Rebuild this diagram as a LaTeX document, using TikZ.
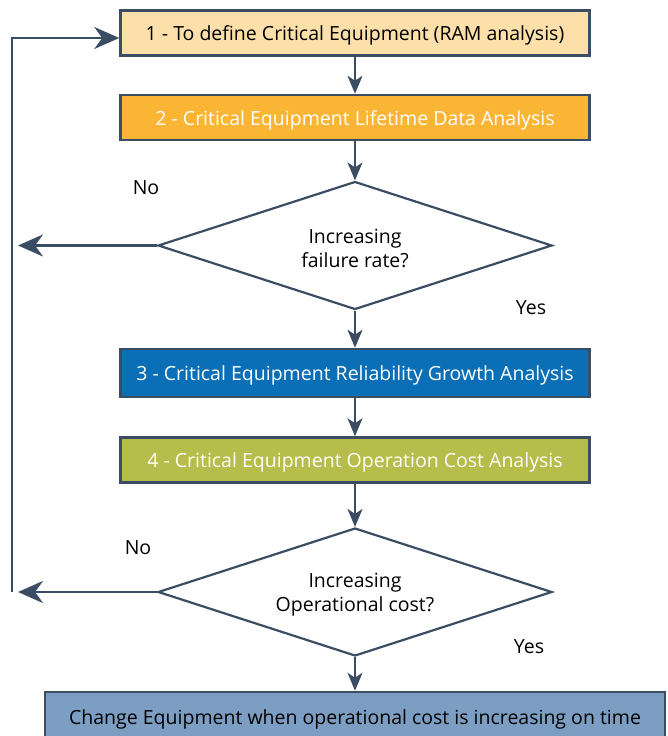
\documentclass[tikz,border=0pt]{standalone}
\usepackage{fontspec}
\setmainfont{Open Sans}
\usetikzlibrary{shapes.geometric,arrows.meta}
\definecolor{edge}{HTML}{3A4D63}
\definecolor{ramfill}{HTML}{FDDFA9}
\definecolor{lifefill}{HTML}{FBB535}
\definecolor{growfill}{HTML}{0A6FB6}
\definecolor{costfill}{HTML}{B7BD4A}
\definecolor{changefill}{HTML}{7B9EC2}
\begin{document}
\begin{tikzpicture}[x=1pt, y=-1pt,
        stepbox/.style={draw=edge, line width=2.5pt, minimum width=469pt, minimum height=45pt, inner sep=0pt, text height=16pt, text depth=1pt, font=\fontsize{19.5}{22}\selectfont},
        decision/.style={draw=edge, line width=2.2pt, diamond, shape aspect=3, minimum width=394pt, minimum height=128pt, inner sep=0pt, align=center, font=\fontsize{19.5}{24}\selectfont},
        flow/.style={draw=edge, line width=1.8pt, -{Stealth[length=18pt, width=15pt, inset=5pt]}},
        back/.style={draw=edge, line width=2.5pt, -{Stealth[length=25pt, width=22pt, inset=8pt]}},
        answer/.style={font=\fontsize{19.5}{22}\selectfont}]
        \useasboundingbox (0, 0) rectangle (668, 736);
        \node[stepbox, fill=ramfill] (ram) at (355, 33) {1 - To define Critical Equipment (RAM analysis)};
        \node[stepbox, fill=lifefill, text=white] (life) at (355, 117.5) {2 - Critical Equipment Lifetime Data Analysis};
        \node[decision] (rate) at (355, 245.5) {\rule{0pt}{20pt}Increasing\\failure rate?};
        \node[stepbox, fill=growfill, text=white, minimum height=48pt] (growth) at (355, 373) {3 - Critical Equipment Reliability Growth Analysis};
        \node[stepbox, fill=costfill, text=white] (cost) at (355, 460) {4 - Critical Equipment Operation Cost Analysis};
        \node[decision] (opcost) at (355, 592) {\rule{0pt}{20pt}Increasing\\Operational cost?};
        \node[stepbox, fill=changefill, minimum width=620pt, minimum height=50pt] (change) at (355, 717) {Change Equipment when operational cost is increasing on time};
        \node[answer] (nofail) at (146, 188) {No};
        \node[answer] (yesfail) at (531, 308) {Yes};
        \node[answer] (nocost) at (138, 548) {No};
        \node[answer] (yescost) at (529, 647) {Yes};
        \coordinate (backfail) at (18, 245.5);
        \coordinate (backcost) at (18, 592);
        \coordinate (loopbot) at (12, 592);
        \coordinate (looptop) at (12, 38);
        \draw[flow] (ram) -- (life);
        \draw[flow] (life) -- (rate);
        \draw[flow] (rate) -- (growth);
        \draw[flow] (growth) -- (cost);
        \draw[flow] (cost) -- (opcost);
        \draw[flow] (opcost) -- (change);
        \draw[back] (rate) -- (backfail);
        \draw[back] (opcost) -- (backcost);
        \draw[back] (loopbot) -- (looptop) -- (ram.west |- looptop);
    \end{tikzpicture}
\end{document}
